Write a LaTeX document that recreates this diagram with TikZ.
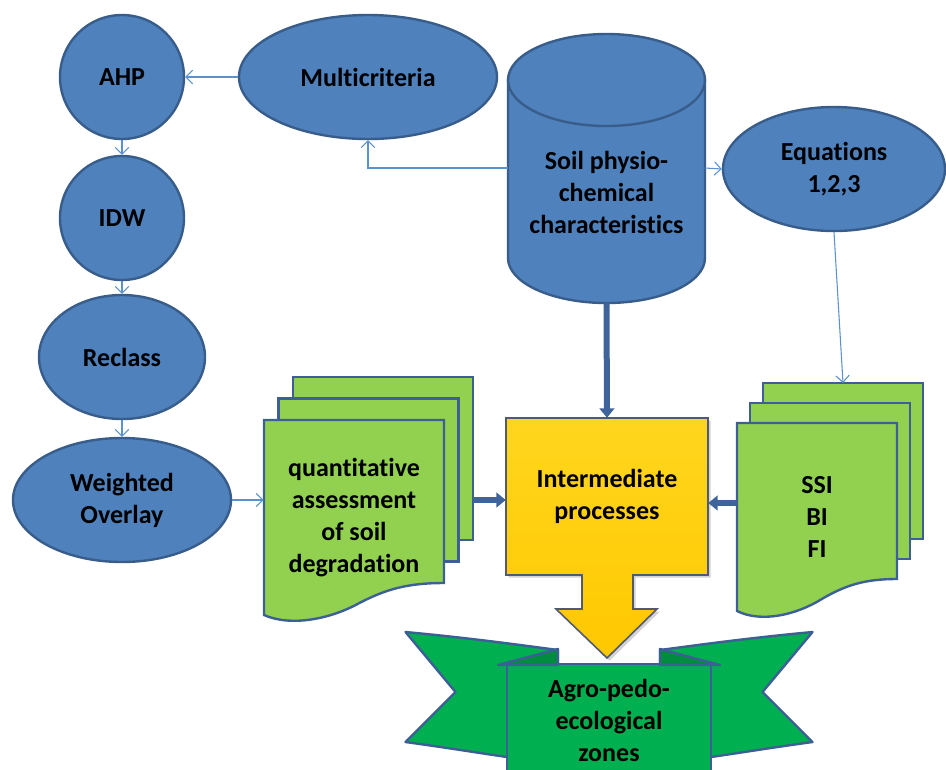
\documentclass[tikz,border=0pt]{standalone}
\usepackage{fontspec}
\setmainfont{Carlito}[RawFeature={-liga;-clig;-calt;-dlig;-rlig}]
\usetikzlibrary{arrows.meta, shapes.geometric, calc, shadows}

\definecolor{bluefill}{RGB}{79,129,189}
\definecolor{blueedge}{RGB}{56,93,138}
\definecolor{bluethin}{RGB}{91,145,205}
\definecolor{bluethick}{RGB}{62,100,155}
\definecolor{docgreen}{RGB}{146,208,80}
\definecolor{docedge}{RGB}{60,96,150}
\definecolor{ribbongreen}{RGB}{0,176,80}
\definecolor{ribbonfold}{RGB}{0,140,62}
\definecolor{yelltop}{RGB}{255,214,30}
\definecolor{yellbot}{RGB}{255,200,0}
\definecolor{yelledge}{RGB}{80,90,115}

\newcommand{\diagfont}{\fontsize{19.5}{24}\selectfont\bfseries}

% stack of three pages: x0, y0, width, height, dx, dy
\newcommand{\multidoc}[6]{%
  \foreach \k in {2,1}{
    \filldraw[docpage] (#1+\k*#5,#2-\k*#6) rectangle ++(#3,#4);
  }
  \pgfmathsetmacro{\xr}{#1+#3}
  \pgfmathsetmacro{\yb}{#2+#4}
  \pgfmathsetmacro{\xa}{#1+0.8*#3}
  \pgfmathsetmacro{\xb}{#1+0.68*#3}
  \pgfmathsetmacro{\xm}{#1+0.53*#3}
  \pgfmathsetmacro{\xc}{#1+0.37*#3}
  \pgfmathsetmacro{\xd}{#1+0.15*#3}
  \filldraw[docpage] (#1,#2) -- (\xr,#2) -- (\xr,\yb)
    .. controls (\xa,\yb) and (\xb,\yb+6) .. (\xm,\yb+20)
    .. controls (\xc,\yb+36) and (\xd,\yb+44) .. (#1,\yb+32) -- cycle;
}

\begin{document}
\begin{tikzpicture}[x=0.75pt, y=-0.75pt,
  bluenode/.style={ellipse, draw=blueedge, fill=bluefill, line width=1.8pt,
    inner sep=0pt, font=\diagfont, align=center, text=black},
  circ/.style={bluenode, circle, minimum size=93pt},
  thinarrow/.style={draw=bluethin, line width=0.8pt,
    -{Straight Barb[length=5pt, width=10pt]}},
  thickarrow/.style={draw=bluethick, line width=4.5pt,
    -{Triangle[length=7pt, width=11pt]}},
  docpage/.style={fill=docgreen, draw=docedge, line width=1.8pt},
  ribbon/.style={fill=ribbongreen, draw=docedge, line width=1.8pt, line join=round},
  txt/.style={font=\diagfont, align=center, text=black, inner sep=0pt}]
\useasboundingbox (0,0) rectangle (946,769);
\clip (0,0) rectangle (946,769);

% left column and ellipses
\node[circ] (ahp) at (122,77) {AHP};
\node[circ] (idw) at (122,218) {IDW};
\node[bluenode, minimum width=124.5pt, minimum height=93pt] (reclass) at (122,357) {Reclass};
\node[bluenode, minimum width=163.5pt, minimum height=93pt] (weighted) at (122,500) {Weighted\\Overlay};
\node[bluenode, minimum width=193.5pt, minimum height=93pt] (multi) at (368,77) {Multicriteria};
\node[bluenode, minimum width=166.5pt, minimum height=93pt] (eq) at (834,169) {Equations\\1,2,3};

% cylinder
\filldraw[fill=bluefill, draw=blueedge, line width=1.8pt]
  (508,80) -- (508,258) arc[start angle=180, end angle=0, x radius=98.5, y radius=45]
  -- (705,80) -- cycle;
\filldraw[fill=bluefill, draw=blueedge, line width=1.8pt]
  (606.5,80) ellipse [x radius=98.5, y radius=46];
\node[txt] (soil) at (606.5,192) {Soil physio-\\chemical\\characteristics};
\coordinate (soilW) at (508,168);
\coordinate (soilE) at (705,168);
\coordinate (soilS) at (606.5,303);

% documents
\multidoc{264}{420}{180}{163}{14.5}{21.5}
\node[txt, minimum width=135pt, minimum height=146pt] (quant) at (354,517.5)
  {quantitative\\assessment\\of soil\\degradation};
\multidoc{737}{423}{160}{156}{13}{20}
\node[txt, minimum width=120pt, minimum height=140pt] (ssi) at (817,516.5) {SSI\\BI\\FI};
\coordinate (quantout) at (473,500);
\coordinate (ssiout) at (737,503);
\coordinate (ssitop) at (843,383);

% ribbon
\foreach \s in {1,-1}{
  \begin{scope}[shift={(609,0)}, xscale=\s]
    \filldraw[ribbon] (-203.5,632) .. controls (-139,638) and (-89,645) .. (-51,650)
      -- (-51,757) -- (-102,757) .. controls (-130,753) and (-160,748) .. (-203.5,742)
      -- (-153.5,692) -- cycle;
  \end{scope}
}
\filldraw[ribbon] (507,664) rectangle (711,790);
\foreach \s in {1,-1}{
  \begin{scope}[shift={(609,0)}, xscale=\s]
    \filldraw[ribbon, fill=ribbonfold] (-111,665) -- (-51,649) -- (-51,665) -- cycle;
  \end{scope}
}
\node[txt] (zones) at (609,720) {Agro-pedo-\\ecological\\zones};

% yellow block arrow
\filldraw[top color=yelltop, bottom color=yellbot, draw=yelledge, line width=1.2pt,
  drop shadow={opacity=0.35, shadow xshift=2pt, shadow yshift=-2pt}]
  (506,418) -- (708,418) -- (708,575) -- (633,575) -- (633,609) -- (657,609)
  -- (607,658) -- (556,609) -- (582,609) -- (582,575) -- (506,575) -- cycle;
\node[txt, minimum width=151.5pt, minimum height=117.75pt] (inter) at (607,496.5)
  {Intermediate\\processes};

% connectors
\draw[thinarrow] (multi.west) -- (ahp.east);
\draw[thinarrow] (ahp) -- (idw);
\draw[thinarrow] (idw) -- (reclass);
\draw[thinarrow] (reclass) -- (weighted);
\draw[thinarrow] (soilW) -| (multi.south);
\draw[thinarrow] (soilE) -- (eq.west);
\draw[thinarrow] (eq.south) -- (ssitop);
\draw[thinarrow] (weighted.east) -- (weighted.east -| quant.west);
\draw[thickarrow] (soilS) -- (inter.north);
\draw[thickarrow] (quantout) -- (quantout -| inter.west);
\draw[thickarrow] (ssiout) -- (ssiout -| inter.east);
\end{tikzpicture}
\end{document}
